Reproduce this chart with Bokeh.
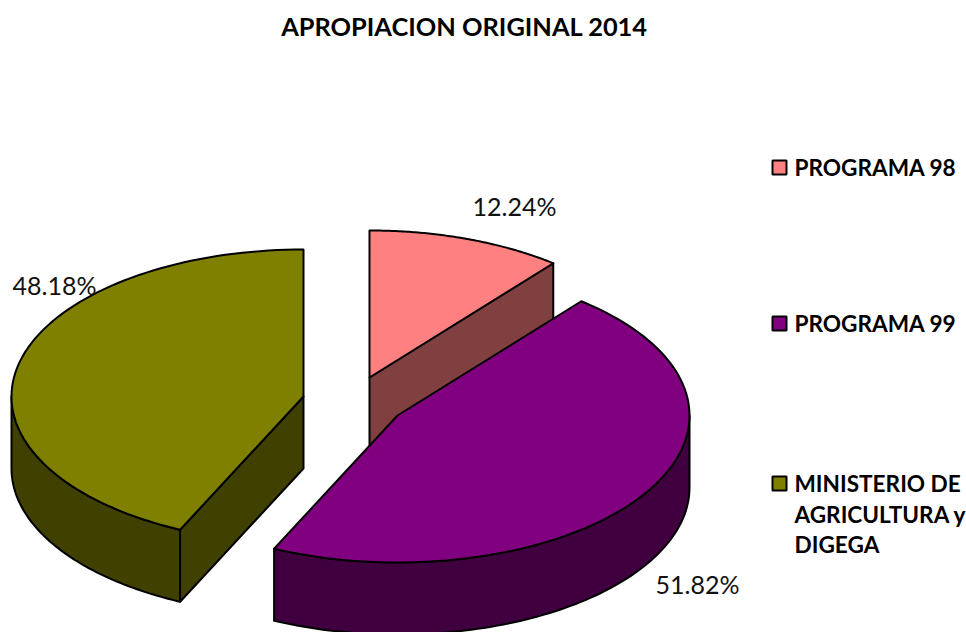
import math
from bokeh.plotting import figure
from bokeh.models import Range1d
from bokeh.core.properties import value
from bokeh.embed import file_html
from bokeh.resources import INLINE

title_text = "APROPIACION ORIGINAL 2014"
categories = ["PROGRAMA 98", "PROGRAMA 99", "MINISTERIO DE\nAGRICULTURA y\nDIGEGA"]
percent_labels = ["12.24%", "51.82%", "48.18%"]
# Drawn sweep of each slice on the tilted ellipse, degrees clockwise from the top
slice_start = [0, 39, 205]
slice_end = [39, 205, 360]
top_colors = ["#FF8080", "#800080", "#808000"]
wall_colors = ["#804040", "#400040", "#404000"]
# Exploded centre of each slice, and pie proportions
centers = [(369, 377), (397, 415), (303, 396)]
RX, RY, DEPTH = 292, 147, 72
label_pos = [(514, 205), (697, 583), (54, 284)]
FONT = "Lato"

p = figure(width=966, height=632, x_range=Range1d(0, 966), y_range=Range1d(632, 0),
           output_backend="svg", toolbar_location=None, min_border=0)
p.axis.visible = False
p.grid.visible = False
p.outline_line_color = None
p.background_fill_color = "white"


def rim(cx, cy, a0, a1, n=90):
    pts = []
    for i in range(n + 1):
        t = math.radians(a0 + (a1 - a0) * i / n)
        pts.append((cx + RX * math.sin(t), cy - RY * math.cos(t)))
    return pts


def patch(pts, color):
    p.patch([q[0] for q in pts], [q[1] for q in pts], fill_color=color,
            line_color="black", line_width=2, line_join="round")


def outer_wall(i, a0, a1):
    cx, cy = centers[i]
    top = rim(cx, cy, a0, a1)
    patch(top + [(x, y + DEPTH) for x, y in reversed(top)], wall_colors[i])


def radial_wall(i, angle):
    cx, cy = centers[i]
    e = rim(cx, cy, angle, angle, 1)[0]
    patch([(cx, cy), e, (e[0], e[1] + DEPTH), (cx, cy + DEPTH)], wall_colors[i])


def top_face(i):
    cx, cy = centers[i]
    patch([(cx, cy)] + rim(cx, cy, slice_start[i], slice_end[i]), top_colors[i])


# Pink slice
radial_wall(0, slice_end[0])
top_face(0)
# Olive slice
outer_wall(2, slice_start[2], 270)
radial_wall(2, slice_start[2])
top_face(2)
# Purple slice
outer_wall(1, 90, slice_end[1])
top_face(1)

# Title and data labels
p.text([464], [25], text=[title_text], text_font=value(FONT), text_font_style="bold",
       text_font_size="25.4px", text_align="center", text_baseline="middle", text_color="black")
p.text([q[0] for q in label_pos], [q[1] for q in label_pos], text=percent_labels,
       text_font=value(FONT), text_font_size="25px", text_align="center",
       text_baseline="middle", text_color="#111111")

# Legend
legend_y = [167, 323, 483]
p.scatter([779, 779, 779], legend_y, marker="square", size=14, fill_color=top_colors,
          line_color="black", line_width=2)
for cat, y0 in zip(categories, legend_y):
    for k, line in enumerate(cat.split("\n")):
        p.text([794], [y0 + k * 30.5], text=[line], text_font=value(FONT), text_font_style="bold",
               text_font_size="22.6px", text_align="left", text_baseline="middle", text_color="black")

open("out.html", "w").write(file_html(p, INLINE))
